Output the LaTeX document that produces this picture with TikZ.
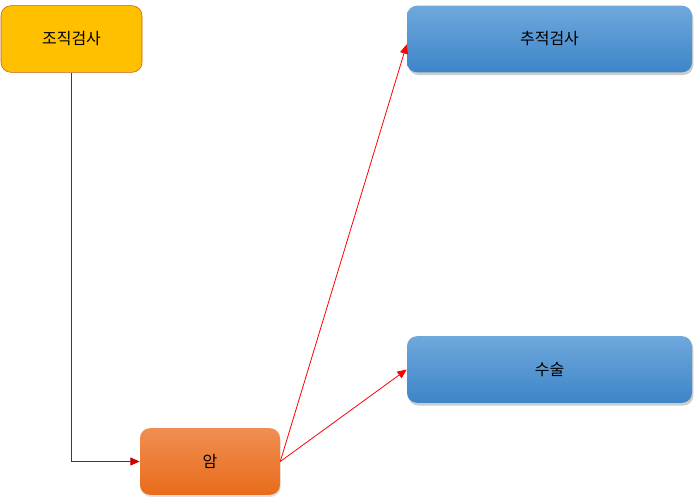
\documentclass[tikz,border=0pt]{standalone}
\usepackage{fontspec}
\setmainfont{Noto Sans CJK KR}
\usetikzlibrary{arrows.meta,positioning,shadows}

\begin{document}
\begin{tikzpicture}[
        x=0.75pt,
        y=-0.75pt,
        node distance=5pt,
        font=\fontsize{12}{14}\selectfont,
        box/.style={
            rectangle,
            rounded corners=7.5pt,
            minimum height=50pt,
            text centered,
        },
        boxbiopsy/.style={
            fill={rgb,255:red,255;green,192;blue,0},
            draw={rgb,255:red,197;green,90;blue,17},
            minimum width=105.75pt,
        },
        boxcancer/.style={
            top color={rgb,255:red,240;green,142;blue,82},
            bottom color={rgb,255:red,232;green,108;blue,26},
            minimum width=105pt,
            drop shadow={shadow xshift=0.5pt,shadow yshift=-1.5pt,opacity=0.25},
        },
        boxblue/.style={
            top color={rgb,255:red,111;green,168;blue,220},
            bottom color={rgb,255:red,61;green,133;blue,200},
            minimum width=213.75pt,
            drop shadow={shadow xshift=1pt,shadow yshift=-2pt,opacity=0.4},
        },
        link/.style={
            -{Triangle[length=7pt,width=6pt]},
            line width=0.6pt,
            draw=red,
        },
    ]
        \useasboundingbox (0,0) rectangle (700,497);

        \node [box, boxbiopsy] (biopsy) at (71.5,39) {조직검사};
        \node [box, boxblue] (followup) at (549.5,39) {추적검사};
        \node [box, boxblue] (surgery) at (549.5,369.5) {수술};
        \node [box, boxcancer] (cancer) at (210,461.5) {암};

        \draw [link, draw={rgb,255:red,200;green,0;blue,0}]
            (biopsy.south) |- (cancer.west);
        \draw [link] (cancer.east) -- ([yshift=-4pt]followup.west);
        \draw [link] (cancer.east) -- (surgery.west);
    \end{tikzpicture}
\end{document}
